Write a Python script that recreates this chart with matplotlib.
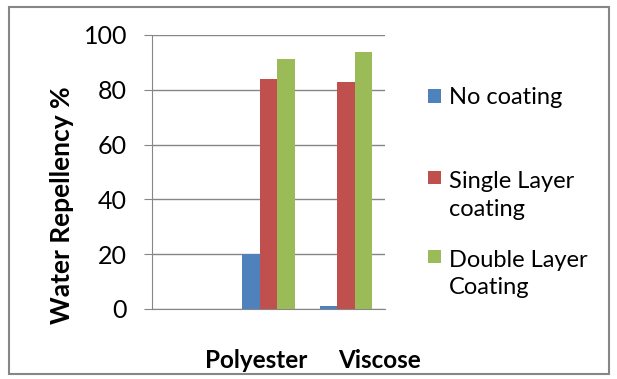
import numpy as np
import matplotlib.pyplot as plt
from matplotlib.patches import Rectangle

plt.rcParams['font.family'] = ['Lato', 'DejaVu Sans']

categories = ["", "Polyester", "Viscose"]
series = ["No coating", "Single Layer\ncoating", "Double Layer\nCoating"]
no_coating = [0, 20, 1.1]
single_layer = [0, 84, 82.7]
double_layer = [0, 91.1, 93.9]
colors = ["#4F81BD", "#C0504D", "#9BBB59"]

W, H = 617, 379
fig = plt.figure(figsize=(W / 100, H / 100), dpi=100)
ax = fig.add_axes([0.2464, 0.1847, 0.3776, 0.723])

x = np.arange(len(categories))
w = 0.224
for i, (vals, c, lab) in enumerate(zip([no_coating, single_layer, double_layer], colors, series)):
    ax.bar(x + (i - 1) * w, vals, width=w, color=c, label=lab, zorder=3)

ax.set_xlim(-0.5, 2.5)
ax.set_ylim(0, 100)
ax.set_yticks(range(0, 101, 20))
ax.tick_params(axis='y', labelsize=18, length=6, color='#868686', pad=12)
ax.set_xticks([])
ax.grid(axis='y', color='#868686', linewidth=1, zorder=0)
for s in ['top', 'right']:
    ax.spines[s].set_visible(False)
ax.spines['left'].set_color('#868686')
ax.spines['bottom'].set_color('#868686')
ax.set_ylabel("Water Repellency %", fontsize=19, fontweight='bold')
ax.yaxis.set_label_coords(-0.335, 0.38)

# category labels sit off-centre in the original
fig.text(256 / W, 1 - 360 / H, categories[1], fontsize=17.5, fontweight='bold', ha='center', va='center')
fig.text(380 / W, 1 - 360 / H, categories[2], fontsize=17.5, fontweight='bold', ha='center', va='center')

# legend drawn by hand: Excel puts the swatch next to the first line
leg_y = [96, 177, 256]
line_gap = 31
for yc, c, lab in zip(leg_y, colors, series):
    fig.add_artist(Rectangle((428 / W, 1 - (yc + 6.5) / H), 13 / W, 13 / H,
                             transform=fig.transFigure, facecolor=c, edgecolor='none'))
    extra = lab.count("\n") * line_gap
    fig.text(449 / W, 1 - (yc + 7.5 + extra) / H, lab, fontsize=17, ha='left', va='baseline', linespacing=1.37)

fig.add_artist(Rectangle((0.015, 0.012), 0.972, 0.97, transform=fig.transFigure,
                         fill=False, edgecolor='#868686', linewidth=1.5))

plt.savefig("out.png", dpi=100)
